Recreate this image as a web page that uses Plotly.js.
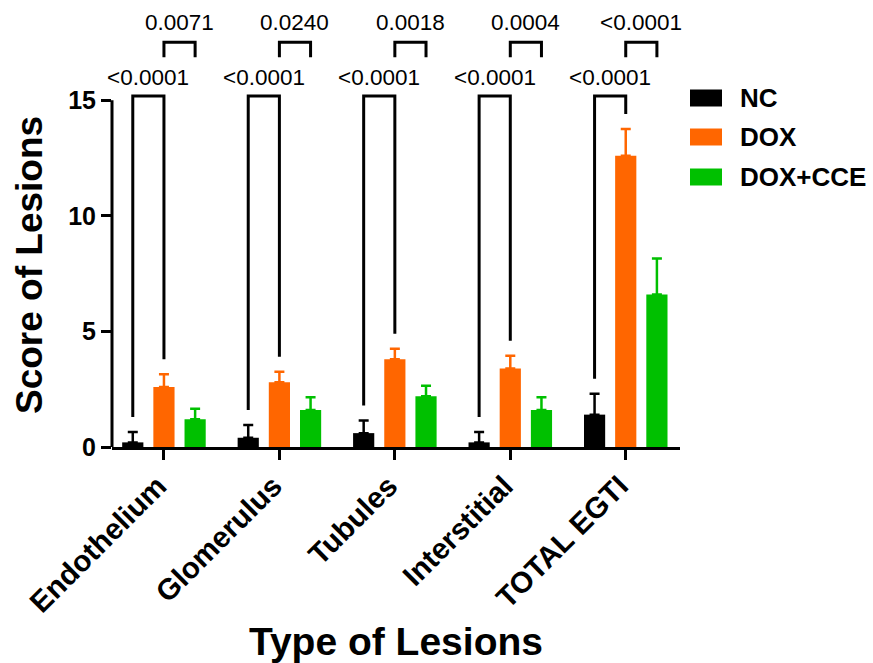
<!DOCTYPE html>
<html>
<head>
<meta charset="utf-8">
<script src="https://cdn.plot.ly/plotly-3.0.1.min.js"></script>
<style>html,body{margin:0;padding:0;background:#fff;}#chart{width:873px;height:663px;}</style>
</head>
<body>
<div id="chart"></div>
<script>
// ---- data ----
const categories = ["Endothelium", "Glomerulus", "Tubules", "Interstitial", "TOTAL EGTI"];
const seriesNames = ["NC", "DOX", "DOX+CCE"];
const ncMean = [0.2, 0.4, 0.6, 0.2, 1.4];
const ncErr = [0.45, 0.55, 0.55, 0.45, 0.9];
const doxMean = [2.6, 2.8, 3.8, 3.4, 12.6];
const doxErr = [0.55, 0.45, 0.45, 0.55, 1.15];
const cceMean = [1.2, 1.6, 2.2, 1.6, 6.6];
const cceErr = [0.45, 0.55, 0.45, 0.55, 1.55];
const pNcVsDox = ["<0.0001", "<0.0001", "<0.0001", "<0.0001", "<0.0001"];
const pDoxVsCce = ["0.0071", "0.0240", "0.0018", "0.0004", "<0.0001"];
const yTicks = [0, 5, 10, 15];

// ---- style ----
const colors = ["#000000", "#FF6600", "#00C000"];
const FONT = "Arial, 'Liberation Sans', Helvetica, sans-serif";
const W = 873, H = 663;
const M = {l: 112, r: 193, t: 10, b: 216};
const plotW = W - M.l - M.r, plotH = H - M.t - M.b;
const xRange = [-0.45, 4.47];
const yRange = [0, 18.9];
const slot = 0.27;           // offset between neighbouring bars in a group
const legGap = 0.65;         // gap between error bar top and bracket leg
const lowTop = 15.18;        // lower bracket height
const upTop = 17.51, upLeg = 16.86;

const xIdx = categories.map((c, i) => i);
const means = [ncMean, doxMean, cceMean];
const errs = [ncErr, doxErr, cceErr];

const traces = seriesNames.map((name, k) => ({
  type: "bar",
  name: name,
  x: xIdx,
  y: means[k],
  marker: {color: colors[k], line: {width: 0}},
  error_y: {type: "data", symmetric: false, array: errs[k], arrayminus: means[k].map(() => 0),
            color: colors[k], thickness: 2.5, width: 5},
  showlegend: false,
  hoverinfo: "skip"
}));

const shapes = [];
const annotations = [];
// y axis line from 0 to 15
shapes.push({type: "line", xref: "paper", yref: "y", x0: 0, x1: 0, y0: 0, y1: 15,
             line: {color: "#000", width: 3}});

categories.forEach((c, i) => {
  const xNc = i - slot, xDox = i, xCce = i + slot;
  const ncTop = ncMean[i] + ncErr[i], doxTop = doxMean[i] + doxErr[i];
  shapes.push({type: "path", xref: "x", yref: "y",
    path: `M${xNc},${ncTop + legGap} L${xNc},${lowTop} L${xDox},${lowTop} L${xDox},${doxTop + legGap}`,
    line: {color: "#000", width: 3}});
  shapes.push({type: "path", xref: "x", yref: "y",
    path: `M${xDox},${upLeg} L${xDox},${upTop} L${xCce},${upTop} L${xCce},${upLeg}`,
    line: {color: "#000", width: 3}});
  annotations.push({xref: "x", yref: "y", x: (xNc + xDox) / 2, y: 16.0, text: pNcVsDox[i],
    showarrow: false, xanchor: "center", yanchor: "middle", font: {family: FONT, size: 22.5, color: "#000"}});
  annotations.push({xref: "x", yref: "y", x: (xDox + xCce) / 2, y: 18.37, text: pDoxVsCce[i],
    showarrow: false, xanchor: "center", yanchor: "middle", font: {family: FONT, size: 22.5, color: "#000"}});
});

// custom legend
const px2xp = px => (px - M.l) / plotW;
const py2yp = py => (H - M.b - py) / plotH;
const legRows = [98, 137, 177];
seriesNames.forEach((name, k) => {
  shapes.push({type: "rect", xref: "paper", yref: "paper",
    x0: px2xp(690), x1: px2xp(722), y0: py2yp(legRows[k] + 8.5), y1: py2yp(legRows[k] - 8.5),
    fillcolor: colors[k], line: {width: 0}});
  annotations.push({xref: "paper", yref: "paper", x: px2xp(738), y: py2yp(legRows[k]),
    text: "<b>" + name + "</b>", showarrow: false, xanchor: "left", yanchor: "middle",
    font: {family: FONT, size: 26, color: "#000"}});
});

// y-axis title, centred on the 0–15 axis line
annotations.push({xref: "paper", yref: "paper", x: px2xp(29), y: py2yp(265),
  text: "<b>Score of Lesions</b>", textangle: -90, showarrow: false,
  xanchor: "center", yanchor: "middle", font: {family: FONT, size: 37, color: "#000"}});

const layout = {
  width: W, height: H,
  margin: M,
  paper_bgcolor: "#fff", plot_bgcolor: "#fff",
  barmode: "group", bargap: 0.19, bargroupgap: 0.32,
  font: {family: FONT, color: "#000"},
  xaxis: {
    range: xRange, tickmode: "array", tickvals: xIdx,
    ticktext: categories.map(c => "<b>" + c + "</b>"),
    tickangle: -45, ticks: "outside", ticklen: 10, tickwidth: 3, tickcolor: "#000",
    ticklabelshift: -6, ticklabelstandoff: -3,
    showline: true, linewidth: 3, linecolor: "#000", showgrid: false, zeroline: false,
    tickfont: {family: FONT, size: 29.5, color: "#000"},
    title: {text: "<b>Type of Lesions</b>", font: {family: FONT, size: 39, color: "#000"}, standoff: 14},
    automargin: false, fixedrange: true
  },
  yaxis: {
    range: yRange, tickmode: "array", tickvals: yTicks,
    ticktext: yTicks.map(v => "<b>" + v + "</b>"),
    ticks: "outside", ticklen: 10, tickwidth: 3, tickcolor: "#000",
    showline: false, showgrid: false, zeroline: false,
    tickfont: {family: FONT, size: 25, color: "#000"},
    automargin: false, fixedrange: true
  },
  shapes: shapes,
  annotations: annotations,
  showlegend: false
};

Plotly.newPlot("chart", traces, layout, {displayModeBar: false, staticPlot: true});
</script>
</body>
</html>
